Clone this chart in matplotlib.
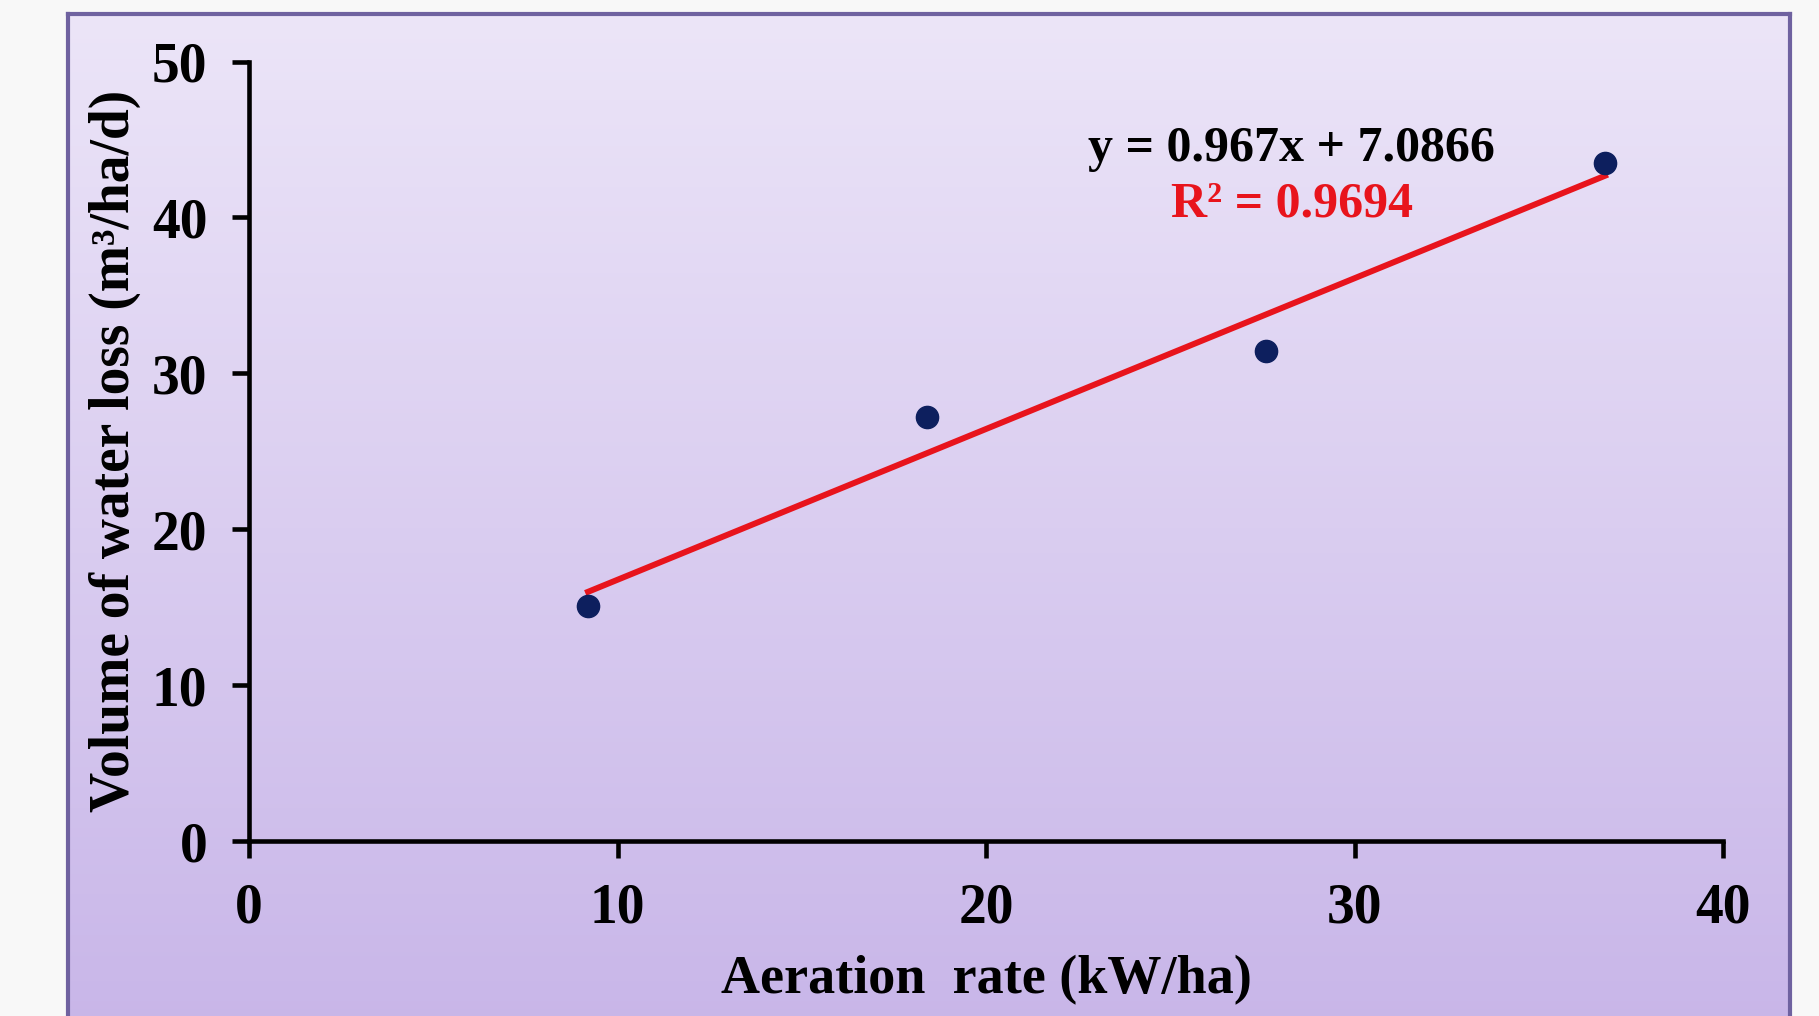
import matplotlib
matplotlib.use("Agg")
import matplotlib.pyplot as plt
import numpy as np

# data
aeration = [9.2, 18.4, 27.6, 36.8]
water_loss = [15.1, 27.2, 31.4, 43.5]
slope = 0.967
intercept = 7.0866
r2 = 0.9694
xticks = [0, 10, 20, 30, 40]
yticks = [0, 10, 20, 30, 40, 50]

plt.rcParams['font.family'] = ['Liberation Serif', 'DejaVu Serif']
plt.rcParams['font.weight'] = 'bold'

fig = plt.figure(figsize=(18.19, 10.16), dpi=100)
fig.patch.set_facecolor('#f8f8f8')

# purple slide box with vertical gradient
bg = fig.add_axes([68 / 1819, -0.05, (1790 - 68) / 1819, 1.05 - 14 / 1016])
top = np.array([236, 229, 248]) / 255
bot = np.array([199, 180, 232]) / 255
t = np.linspace(0, 1, 256)[:, None]
grad = top * (1 - t[..., None]) + bot * t[..., None]
grad = np.repeat(grad, 2, axis=1)
bg.imshow(grad, aspect='auto', extent=[0, 1, 0, 1], origin='upper')
bg.set_xticks([])
bg.set_yticks([])
for s in bg.spines.values():
    s.set_color('#6f62a0')
    s.set_linewidth(3)
bg.set_zorder(0)

ax = fig.add_axes([249 / 1819, 1 - 841 / 1016, (1723 - 249) / 1819, (841 - 61.5) / 1016])
ax.set_zorder(1)
ax.patch.set_alpha(0)

ax.scatter(aeration, water_loss, s=16 ** 2, color='#0d1f5e', zorder=3)
xs = np.array([aeration[0], aeration[-1]])
ax.plot(xs, slope * xs + intercept, color='#e8141c', lw=4.3, zorder=2)

ax.text(28.3, 44.4, 'y = %gx + %g' % (slope, intercept), ha='center', va='center',
        fontsize=36, color='black', fontweight='bold')
ax.text(28.3, 40.85, 'R² = %g' % r2, ha='center', va='center',
        fontsize=36, color='#e8141c', fontweight='bold')

ax.set_xlim(0, 40)
ax.set_ylim(0, 50)
ax.set_xticks(xticks)
ax.set_yticks(yticks)
for side in ['top', 'right']:
    ax.spines[side].set_visible(False)
for side in ['left', 'bottom']:
    ax.spines[side].set_linewidth(3.3)
ax.tick_params(direction='out', length=12, width=3.3, labelsize=40, pad=18)
for lab in ax.get_xticklabels() + ax.get_yticklabels():
    lab.set_fontweight('bold')

ax.set_xlabel('Aeration  rate (kW/ha)', fontsize=39, fontweight='bold', labelpad=15)
ax.set_ylabel('Volume of water loss (m³/ha/d)', fontsize=40,
              fontweight='bold', labelpad=8)

fig.savefig('out.png', dpi=100, facecolor=fig.get_facecolor())
